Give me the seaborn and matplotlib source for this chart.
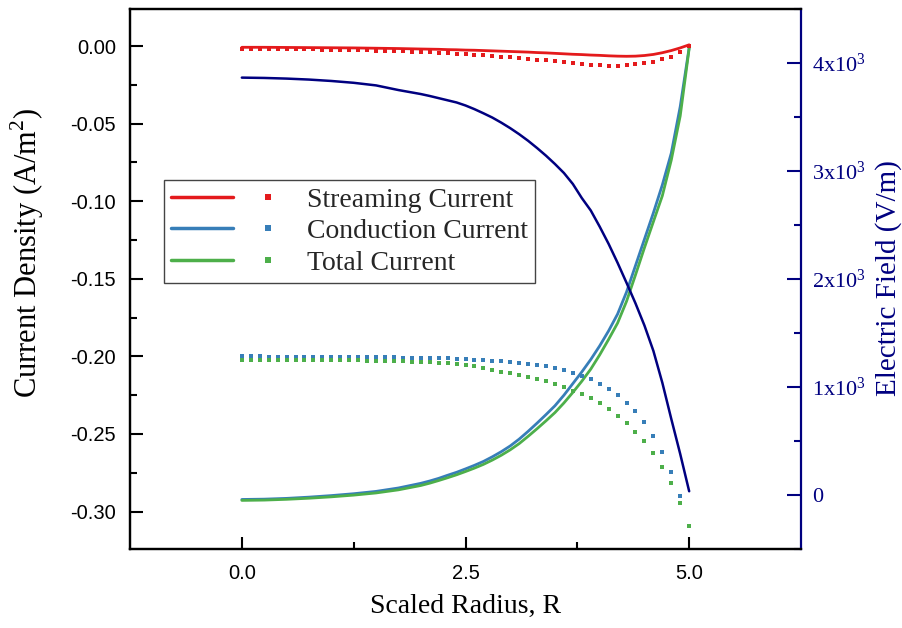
import numpy as np
import pandas as pd
import matplotlib
matplotlib.use("Agg")
import matplotlib.pyplot as plt
import seaborn as sns
from matplotlib.lines import Line2D
from matplotlib.legend_handler import HandlerTuple
from matplotlib.ticker import MultipleLocator, FuncFormatter, FixedLocator

# ---------------- data ----------------
# solid curves
r_line = [0.0, 0.25, 0.5, 0.75, 1.0, 1.25, 1.5, 1.75,
          2.0, 2.1, 2.2, 2.3, 2.4, 2.5, 2.6, 2.7, 2.8, 2.9,
          3.0, 3.1, 3.2, 3.3, 3.4, 3.5, 3.6, 3.7, 3.8, 3.9,
          4.0, 4.1, 4.2, 4.3, 4.4, 4.5, 4.6, 4.7, 4.8, 4.9, 5.0]
streaming_line = [-0.0008, -0.0008, -0.0009, -0.0010, -0.0011, -0.0012, -0.0014, -0.0016,
                  -0.0019, -0.0020, -0.0021, -0.0023, -0.0024, -0.0026, -0.0027, -0.0029, -0.0031, -0.0033,
                  -0.0035, -0.0037, -0.0039, -0.0042, -0.0044, -0.0047, -0.0050, -0.0053, -0.0055, -0.0058,
                  -0.0060, -0.0063, -0.0065, -0.0066, -0.0065, -0.0061, -0.0054, -0.0043, -0.0029, -0.0012,
                  0.0008]
conduction_line = [-0.2922, -0.2920, -0.2915, -0.2907, -0.2897, -0.2885, -0.2870, -0.2848,
                   -0.2818, -0.2803, -0.2786, -0.2766, -0.2747, -0.2725, -0.2702, -0.2677, -0.2647, -0.2614,
                   -0.2577, -0.2533, -0.2483, -0.2430, -0.2375, -0.2318, -0.2250, -0.2175, -0.2100, -0.2020,
                   -0.1932, -0.1835, -0.1727, -0.1585, -0.1415, -0.1245, -0.1075, -0.0895, -0.0690, -0.0390,
                   -0.0010]
total_line = [-0.2928, -0.2926, -0.2921, -0.2914, -0.2905, -0.2894, -0.2880, -0.2860,
              -0.2832, -0.2817, -0.2800, -0.2782, -0.2763, -0.2742, -0.2720, -0.2696, -0.2668, -0.2637,
              -0.2602, -0.2562, -0.2515, -0.2466, -0.2415, -0.2362, -0.2300, -0.2232, -0.2160, -0.2082,
              -0.1990, -0.1890, -0.1785, -0.1645, -0.1475, -0.1300, -0.1132, -0.0965, -0.0735, -0.0450,
              -0.0015]
efield_line = [3860, 3857, 3851, 3842, 3829, 3812, 3788, 3745,
               3708, 3690, 3670, 3650, 3630, 3602, 3568, 3530, 3490, 3443,
               3392, 3336, 3275, 3208, 3137, 3060, 2977, 2875, 2745, 2630,
               2480, 2320, 2145, 1960, 1770, 1565, 1330, 1035, 700, 375, 30]

# dotted (square marker) series
r_dot = [round(0.1 * i, 1) for i in range(51)]
streaming_dot = [-0.0019, -0.0019, -0.0019, -0.0020, -0.0020, -0.0021, -0.0021, -0.0022, -0.0022,
                 -0.0023, -0.0024, -0.0025, -0.0026, -0.0027, -0.0028, -0.0029, -0.0030, -0.0032,
                 -0.0034, -0.0036, -0.0038, -0.0040, -0.0043, -0.0046, -0.0049, -0.0052, -0.0056,
                 -0.0060, -0.0064, -0.0068, -0.0072, -0.0077, -0.0082, -0.0087, -0.0092, -0.0097,
                 -0.0103, -0.0109, -0.0115, -0.0120, -0.0124, -0.0127, -0.0127, -0.0124, -0.0118,
                 -0.0109, -0.0100, -0.0086, -0.0068, -0.0040, 0.0003]
conduction_dot = [-0.2000, -0.2000, -0.2000, -0.2001, -0.2001, -0.2001, -0.2002, -0.2002, -0.2002,
                  -0.2003, -0.2003, -0.2003, -0.2004, -0.2004, -0.2005, -0.2005, -0.2006, -0.2007,
                  -0.2008, -0.2009, -0.2010, -0.2011, -0.2012, -0.2013, -0.2015, -0.2017, -0.2020,
                  -0.2023, -0.2027, -0.2032, -0.2037, -0.2043, -0.2048, -0.2056, -0.2065, -0.2075,
                  -0.2088, -0.2104, -0.2124, -0.2148, -0.2176, -0.2210, -0.2250, -0.2298, -0.2355,
                  -0.2425, -0.2510, -0.2618, -0.2744, -0.2900, np.nan]
total_dot = [-0.2020, -0.2020, -0.2020, -0.2021, -0.2021, -0.2022, -0.2022, -0.2023, -0.2023,
             -0.2024, -0.2024, -0.2025, -0.2025, -0.2026, -0.2027, -0.2028, -0.2029, -0.2030,
             -0.2032, -0.2034, -0.2036, -0.2038, -0.2041, -0.2044, -0.2048, -0.2053, -0.2064,
             -0.2076, -0.2088, -0.2099, -0.2110, -0.2119, -0.2131, -0.2145, -0.2160, -0.2177,
             -0.2200, -0.2222, -0.2243, -0.2270, -0.2303, -0.2340, -0.2383, -0.2430, -0.2485,
             -0.2547, -0.2624, -0.2713, -0.2817, -0.2944, -0.3090]

series_names = ["Streaming Current", "Conduction Current", "Total Current"]
x_ticks = [0.0, 2.5, 5.0]
y_ticks = [0.00, -0.05, -0.10, -0.15, -0.20, -0.25, -0.30]
e_ticks = [0, 1000, 2000, 3000, 4000]

# ---------------- style ----------------
sns.set_theme(style="white")
plt.rcParams["font.family"] = ["Liberation Serif", "DejaVu Serif"]
plt.rcParams["axes.unicode_minus"] = False
plt.rcParams["mathtext.fontset"] = "custom"
plt.rcParams["mathtext.rm"] = "Liberation Serif"

RED = "#e41a1c"
BLUE = "#377eb8"
GREEN = "#4daf4a"
NAVY = "#000080"
colors = [RED, BLUE, GREEN]

fig = plt.figure(figsize=(9.02, 6.28), dpi=100)
ax = fig.add_axes([130 / 902, 1 - 548.5 / 628, 671 / 902, 540 / 628])
ax2 = ax.twinx()

lines_df = pd.DataFrame({"R": r_line, series_names[0]: streaming_line,
                         series_names[1]: conduction_line, series_names[2]: total_line})
dots_df = pd.DataFrame({"R": r_dot, series_names[0]: streaming_dot,
                        series_names[1]: conduction_dot, series_names[2]: total_dot})
e_df = pd.DataFrame({"R": r_line, "E": efield_line})

for name, col in zip(series_names, colors):
    sns.lineplot(data=lines_df, x="R", y=name, ax=ax, color=col, lw=2.0, legend=False, zorder=3)
for name, col in zip(series_names, colors):
    sns.scatterplot(data=dots_df, x="R", y=name, ax=ax, color=col, marker="s", s=11,
                    linewidth=0, legend=False, zorder=4)

sns.lineplot(data=e_df, x="R", y="E", ax=ax2, color=NAVY, lw=1.8, legend=False, zorder=5)

# axes limits
ax.set_xlim(-1.25, 6.25)
ax.set_ylim(-0.3238, 0.0242)
ax2.set_ylim(-500, 4500)

# ticks
ax.xaxis.set_major_locator(FixedLocator(x_ticks))
ax.xaxis.set_minor_locator(FixedLocator([1.25, 3.75]))
ax.yaxis.set_major_locator(FixedLocator(y_ticks))
ax.yaxis.set_minor_locator(MultipleLocator(0.025))
ax2.yaxis.set_major_locator(FixedLocator(e_ticks))
ax2.yaxis.set_minor_locator(MultipleLocator(500))

ax.xaxis.set_major_formatter(FuncFormatter(lambda v, p: f"{v:.1f}"))
ax.yaxis.set_major_formatter(FuncFormatter(lambda v, p: f"{v:.2f}".replace("-0.00", "0.00")))


def efmt(v, p):
    if abs(v) < 1e-9:
        return "0"
    return r"$\mathregular{%dx10^{3}}$" % int(round(v / 1000))


ax2.yaxis.set_major_formatter(FuncFormatter(efmt))

ax.tick_params(axis="both", which="both", direction="in", colors="black")
ax.tick_params(axis="x", which="major", length=9, width=1.5, pad=11, labelsize=14.5)
ax.tick_params(axis="x", which="minor", length=5, width=1.5)
ax.tick_params(axis="y", which="major", length=9, width=1.5, pad=10, labelsize=14.5)
ax.tick_params(axis="y", which="minor", length=5, width=1.5)
ax.tick_params(axis="x", which="both", bottom=True, top=False)
ax.tick_params(axis="y", which="both", left=True, right=False)
ax2.tick_params(axis="y", which="both", direction="in", colors=NAVY)
ax2.tick_params(axis="y", which="major", length=10, width=1.5, pad=8, labelsize=16)
ax2.tick_params(axis="y", which="minor", length=5, width=1.5)

for lab in ax.get_xticklabels() + ax.get_yticklabels():
    lab.set_fontfamily(["Liberation Sans", "DejaVu Sans"])

# spines
for a in (ax, ax2):
    for s in a.spines.values():
        s.set_linewidth(1.6)
        s.set_color("black")
ax2.spines["right"].set_color(NAVY)
ax.spines["right"].set_visible(False)

# labels
ax.set_xlabel("Scaled Radius, R", fontsize=20, color="black")
ax.set_ylabel(r"Current Density (A/m$^{\mathregular{2}}$)", fontsize=22, color="black")
ax2.set_ylabel("Electric Field (V/m)", fontsize=21, color=NAVY)
ax.xaxis.set_label_coords(0.5, -0.085)
ax.yaxis.set_label_coords(-0.125, 0.547)
ax2.yaxis.set_label_coords(1.11, 0.5)

# legend
handles = []
for col in colors:
    h_line = Line2D([], [], color=col, lw=2.5)
    h_dot = Line2D([], [], color=col, marker="s", ms=4, ls="none", mew=0)
    handles.append((h_line, h_dot))
leg = ax.legend(handles, series_names, handler_map={tuple: HandlerTuple(ndivide=None, pad=0.15)},
                loc="upper left", bbox_to_anchor=(0.0507, 0.682), borderaxespad=0,
                fontsize=20, handlelength=4.6, handletextpad=0.3, labelspacing=0.22,
                borderpad=0.25, fancybox=False, framealpha=1, edgecolor="#444444",
                numpoints=1)
leg.get_frame().set_linewidth(1.0)
leg.set_zorder(10)

fig.savefig("out.png", dpi=100, facecolor="white")
